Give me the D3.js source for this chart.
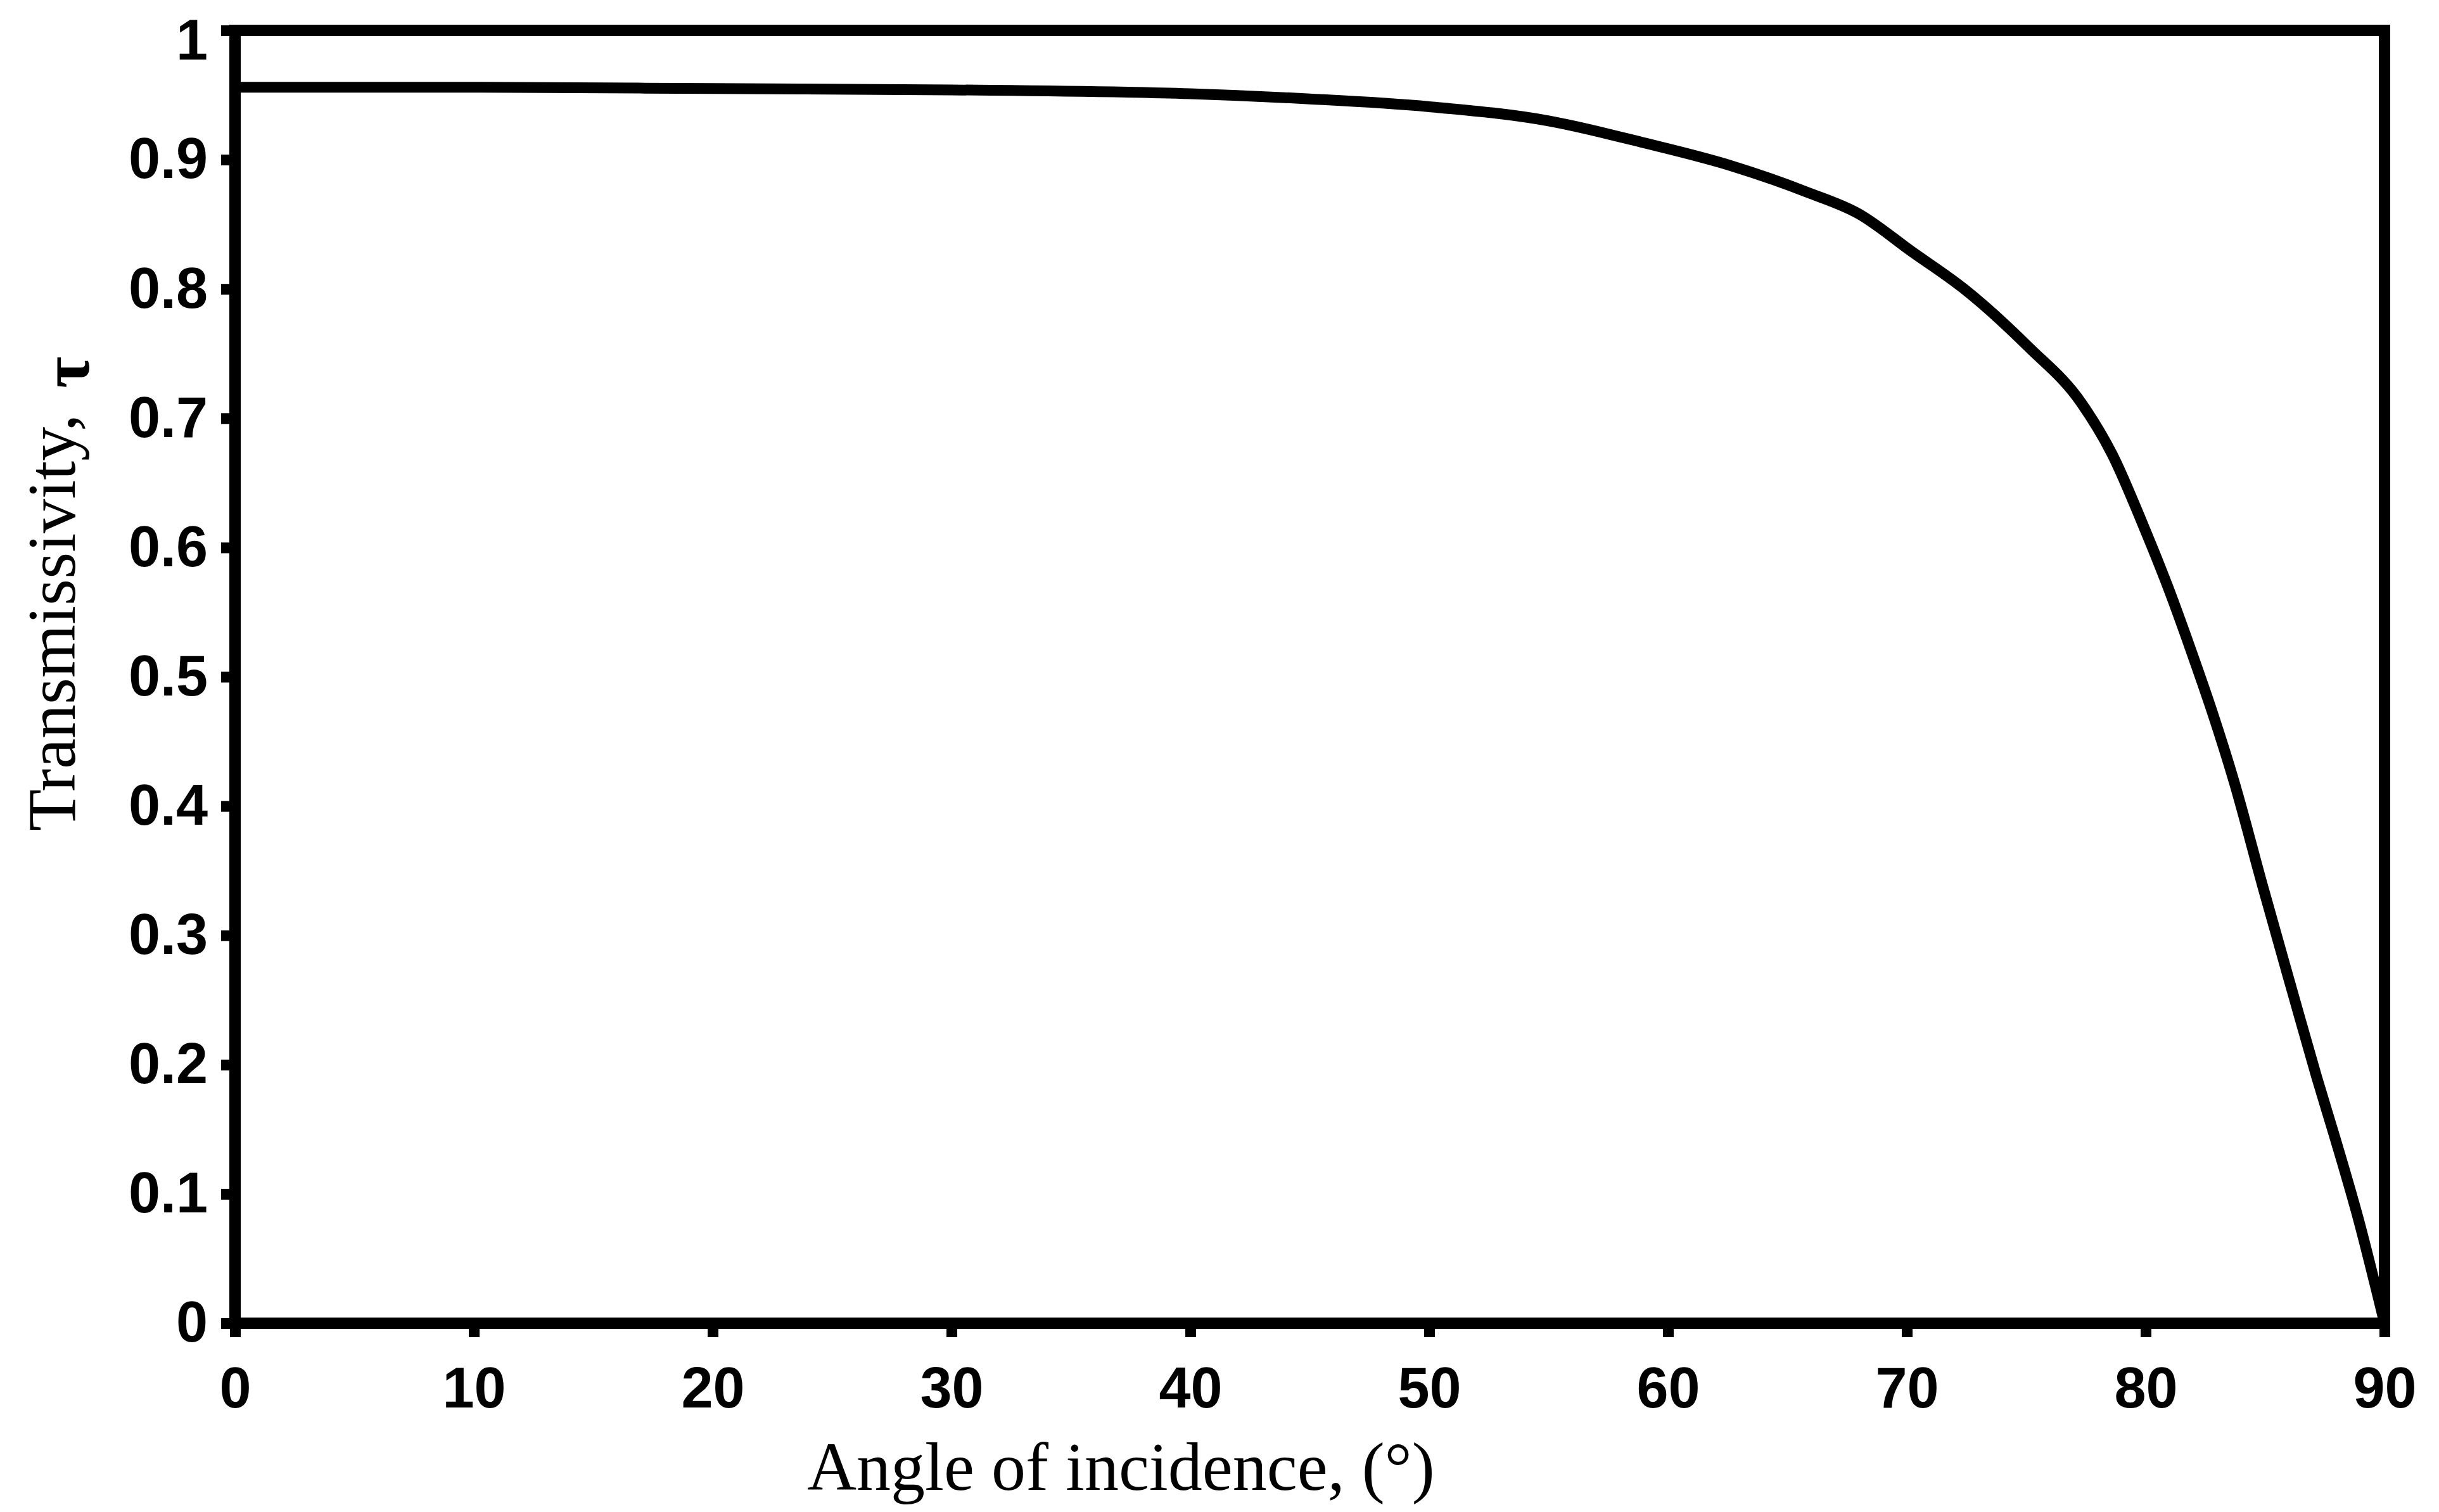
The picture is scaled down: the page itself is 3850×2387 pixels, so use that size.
<!DOCTYPE html>
<meta charset="utf-8">
<style>
body { margin: 0; background: #fff; }
.tick text {
  font-family: "Liberation Sans", Arial, sans-serif;
  font-weight: bold;
  font-size: 90px;
  fill: #000;
}
.title {
  font-family: "Liberation Serif", "Times New Roman", serif;
  font-size: 108px;
  fill: #000;
}
</style>
<svg id="chart" width="3850" height="2387"></svg>
<script src="https://d3js.org/d3.v7.min.js"></script>
<script>
// angle of incidence (deg) and transmissivity
var angles = [0, 10, 20, 30, 40, 45, 50, 55, 59, 62.7, 65.8, 68, 70.2, 72.4, 75.1, 77.3, 78.6, 79.9, 80.9, 82, 82.8, 83.7, 84.9, 86.15, 87.15, 87.95, 88.9, 90];
var tau    = [0.956, 0.956, 0.955, 0.954, 0.951, 0.947, 0.941, 0.930, 0.913, 0.895, 0.875, 0.858, 0.829, 0.800, 0.755, 0.712, 0.672, 0.617, 0.571, 0.515, 0.472, 0.419, 0.338, 0.256, 0.191, 0.142, 0.081, 0];

var xTicks = [0, 10, 20, 30, 40, 50, 60, 70, 80, 90];
var yTicks = [0, 0.1, 0.2, 0.3, 0.4, 0.5, 0.6, 0.7, 0.8, 0.9, 1];
var xTitle = "Angle of incidence, (°)";
var yTitle = "Transmissivity, ";
var ySymbol = "τ";

var width = 3850, height = 2387;
var margin = {top: 48, right: 86, bottom: 298, left: 371};
var w = width - margin.left - margin.right;
var h = height - margin.top - margin.bottom;

var svg = d3.select("#chart");
var g = svg.append("g").attr("transform", "translate(" + margin.left + "," + margin.top + ")");

var x = d3.scaleLinear().domain([0, 90]).range([0, w]);
var y = d3.scaleLinear().domain([0, 1]).range([h, 0]);

// frame
g.append("rect")
  .attr("x", 0).attr("y", 0)
  .attr("width", w).attr("height", h)
  .attr("fill", "none")
  .attr("stroke", "#000")
  .attr("stroke-width", 18);

var xAxis = g.append("g")
  .attr("transform", "translate(0," + h + ")")
  .call(d3.axisBottom(x).tickValues(xTicks).tickSize(22).tickPadding(47).tickFormat(d3.format("d")));

var yAxis = g.append("g")
  .call(d3.axisLeft(y).tickValues(yTicks).tickSize(22).tickPadding(21).tickFormat(function(d){ return d === 0 || d === 1 ? d3.format("d")(d) : d3.format(".1f")(d); }));

[xAxis, yAxis].forEach(function(a){
  a.select(".domain").remove();
  a.selectAll(".tick line").attr("stroke", "#000").attr("stroke-width", 17);
  a.attr("font-family", null).attr("font-size", null);
});

// the top label sits a little low in the original
yAxis.selectAll(".tick text").filter(function(d){ return d === 1; }).attr("dy", "0.5em");

var line = d3.line()
  .x(function(d, i){ return x(angles[i]); })
  .y(function(d){ return y(d); })
  .curve(d3.curveMonotoneX);

g.append("path")
  .datum(tau)
  .attr("d", line)
  .attr("fill", "none")
  .attr("stroke", "#000")
  .attr("stroke-width", 17)
  .attr("stroke-linejoin", "round")
  .attr("stroke-linecap", "round");

// axis titles
svg.append("text")
  .attr("class", "title")
  .attr("x", 1274)
  .attr("y", 2352)
  .text(xTitle);

var yt = svg.append("text")
  .attr("class", "title")
  .attr("font-size", 104)
  .attr("transform", "translate(118,1312) rotate(-90)");
yt.append("tspan").text(yTitle);
yt.append("tspan").attr("font-weight", "bold").attr("dx", 14).attr("dy", 22).text(ySymbol);
</script>
